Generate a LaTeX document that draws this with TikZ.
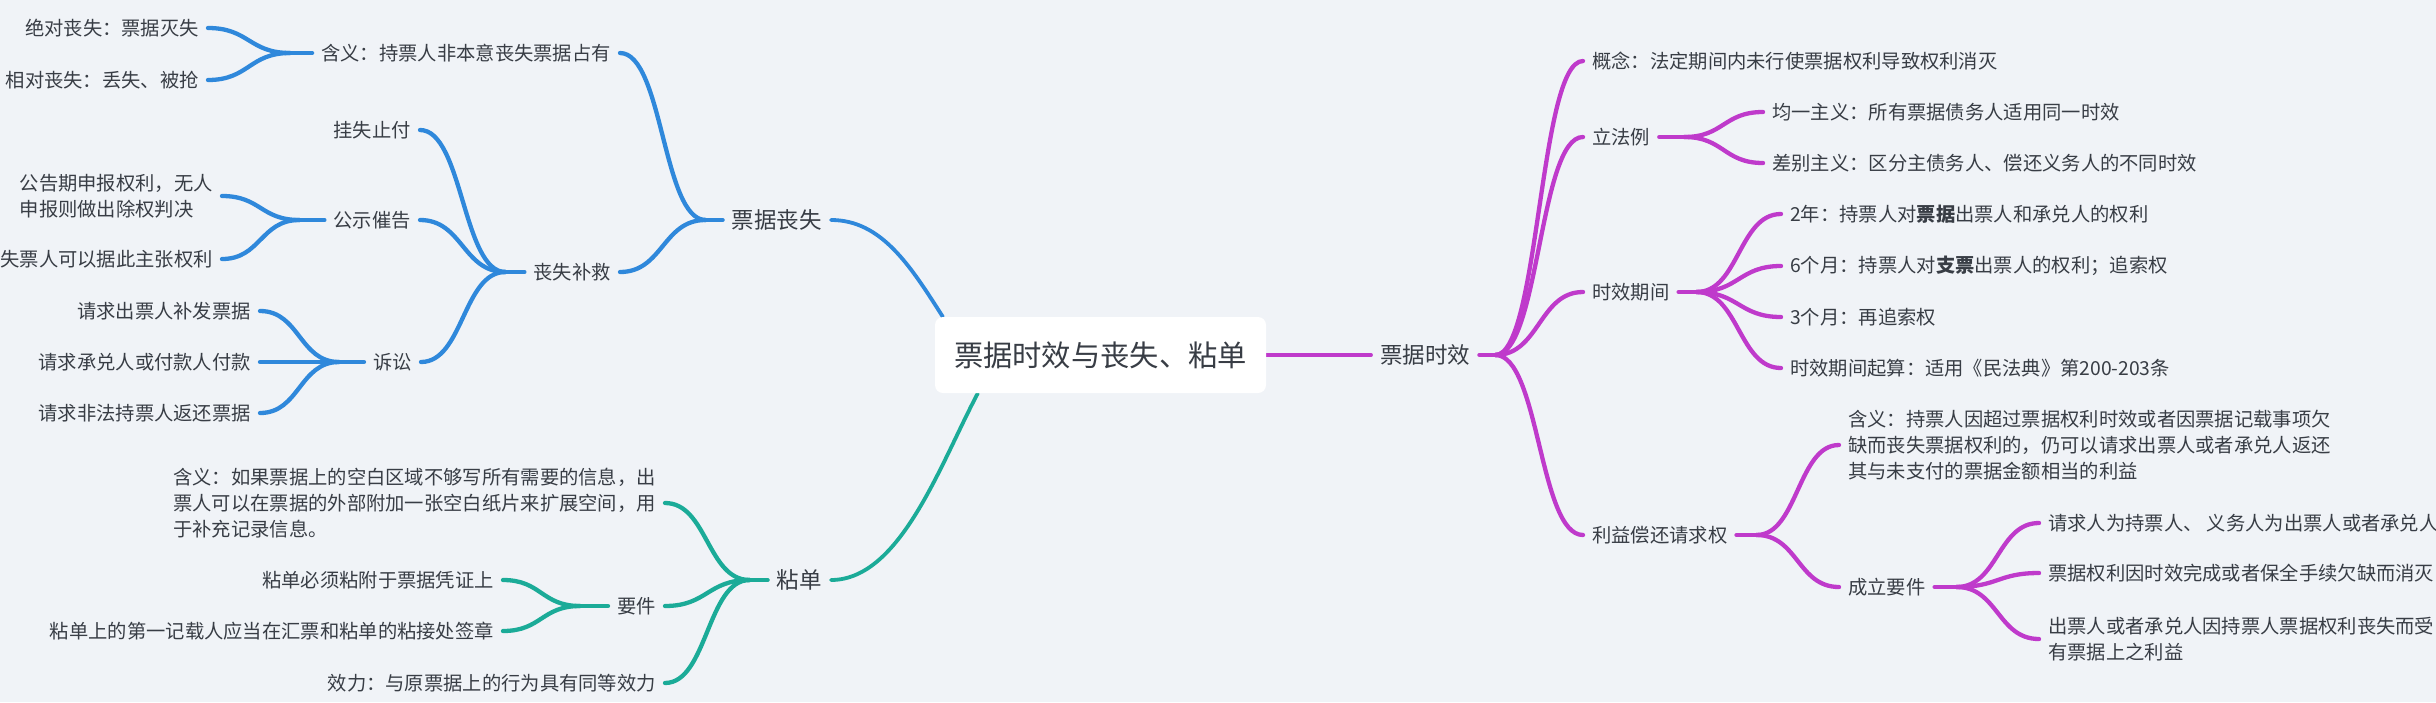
\documentclass[tikz,border=0pt]{standalone}
\usepackage{fontspec}
\setmainfont{Noto Sans CJK SC}
\usetikzlibrary{calc}
\definecolor{bgc}{RGB}{240,243,247}
\definecolor{txt}{RGB}{56,61,69}
\definecolor{cblue}{RGB}{47,136,219}
\definecolor{cteal}{RGB}{27,171,152}
\definecolor{cpurp}{RGB}{191,58,203}
\pgfdeclarelayer{bg}
\pgfdeclarelayer{lines}
\pgfsetlayers{bg,lines,main}
\tikzset{
  every node/.style={text=txt, inner ysep=2pt, inner xsep=9pt, align=left},
  sub/.style={font=\fontsize{19.3}{25.7}\selectfont},
  mainbr/.style={font=\fontsize{22.5}{28}\selectfont},
  rootnode/.style={fill=white, rounded corners=8pt, minimum width=331pt, minimum height=76pt,
    inner sep=0pt, font=\fontsize{29.3}{34}\selectfont},
  link/.style={line width=4.3pt, line cap=round},
  rootlink/.style={line width=3.8pt, line cap=round},
  curveto/.style={to path={.. controls ($(\tikztostart)!0.5!(\tikztotarget|-\tikztostart)$)
     and ($(\tikztotarget)!0.5!(\tikztostart|-\tikztotarget)$) .. (\tikztotarget)}},
}
\begin{document}
\begin{tikzpicture}[x=1pt,y=-1pt]
\begin{pgfonlayer}{bg}
\fill[bgc] (0,0) rectangle (2436,702);
\end{pgfonlayer}
\useasboundingbox (0,0) rectangle (2436,702);

% root
\node[rootnode] (root) at (1100.5,355) {票据时效与丧失、粘单};

% level 1
\node[mainbr, anchor=east] (L1) at (831,220) {票据丧失};
\node[mainbr, anchor=east] (L2) at (831,580) {粘单};
\node[mainbr, anchor=west] (R1) at (1371,355) {票据时效};

% blue branch
\node[sub, anchor=east] (a1) at (620,53) {含义：持票人非本意丧失票据占有};
\node[sub, anchor=east] (a11) at (208,28) {绝对丧失：票据灭失};
\node[sub, anchor=east] (a12) at (208,80) {相对丧失：丢失、被抢};
\node[sub, anchor=east] (a2) at (620,272) {丧失补救};
\node[sub, anchor=east] (a21) at (420,130) {挂失止付};
\node[sub, anchor=east] (a22) at (420,220) {公示催告};
\node[sub, anchor=east] (a221) at (222,196) {公告期申报权利，无人\\申报则做出除权判决};
\node[sub, anchor=east] (a222) at (222,259) {失票人可以据此主张权利};
\node[sub, anchor=east] (a23) at (421,362) {诉讼};
\node[sub, anchor=east] (a231) at (260,311) {请求出票人补发票据};
\node[sub, anchor=east] (a232) at (260,362) {请求承兑人或付款人付款};
\node[sub, anchor=east] (a233) at (260,413) {请求非法持票人返还票据};

% teal branch
\node[sub, anchor=east] (b1) at (665,503) {含义：如果票据上的空白区域不够写所有需要的信息，出\\票人可以在票据的外部附加一张空白纸片来扩展空间，用\\于补充记录信息。};
\node[sub, anchor=east] (b2) at (665,606) {要件};
\node[sub, anchor=east] (b21) at (503,580) {粘单必须粘附于票据凭证上};
\node[sub, anchor=east] (b22) at (503,631) {粘单上的第一记载人应当在汇票和粘单的粘接处签章};
\node[sub, anchor=east] (b3) at (665,683) {效力：与原票据上的行为具有同等效力};

% purple branch
\node[sub, anchor=west] (c1) at (1583,61) {概念：法定期间内未行使票据权利导致权利消灭};
\node[sub, anchor=west] (c2) at (1583,137) {立法例};
\node[sub, anchor=west] (c21) at (1763,112) {均一主义：所有票据债务人适用同一时效};
\node[sub, anchor=west] (c22) at (1763,163) {差别主义：区分主债务人、偿还义务人的不同时效};
\node[sub, anchor=west] (c3) at (1583,292) {时效期间};
\node[sub, anchor=west] (c31) at (1781,214) {2年：持票人对\textbf{票据}出票人和承兑人的权利};
\node[sub, anchor=west] (c32) at (1781,266) {6个月：持票人对\textbf{支票}出票人的权利；追索权};
\node[sub, anchor=west] (c33) at (1781,317) {3个月：再追索权};
\node[sub, anchor=west] (c34) at (1781,368) {时效期间起算：适用《民法典》第200-203条};
\node[sub, anchor=west] (c4) at (1583,535) {利益偿还请求权};
\node[sub, anchor=west] (c41) at (1839,445) {含义：持票人因超过票据权利时效或者因票据记载事项欠\\缺而丧失票据权利的，仍可以请求出票人或者承兑人返还\\其与未支付的票据金额相当的利益};
\node[sub, anchor=west] (c42) at (1839,587) {成立要件};
\node[sub, anchor=west] (c421) at (2039,523) {请求人为持票人、 义务人为出票人或者承兑人};
\node[sub, anchor=west] (c422) at (2039,573) {票据权利因时效完成或者保全手续欠缺而消灭};
\node[sub, anchor=west] (c423) at (2039,639) {出票人或者承兑人因持票人票据权利丧失而受\\有票据上之利益};

\begin{pgfonlayer}{lines}
% root links
\draw[rootlink, cpurp] (root.east) -- (R1.west);
\draw[rootlink, cblue] (L1.east) .. controls +(50,0) and +(-33,-52) .. ([xshift=8pt]root.north west);
\draw[rootlink, cteal] (L2.east) .. controls +(69,0) and +(-38,72) .. ([xshift=43pt]root.south west);

% blue
\draw[link, cblue] (L1.west) -- ++(-17,0) coordinate (jL1);
\draw[link, cblue] (jL1) to[curveto] (a1.east);
\draw[link, cblue] (jL1) to[curveto] (a2.east);
\draw[link, cblue] (a1.west) -- ++(-22,0) coordinate (ja1);
\draw[link, cblue] (ja1) to[curveto] (a11.east);
\draw[link, cblue] (ja1) to[curveto] (a12.east);
\draw[link, cblue] (a2.west) -- ++(-19,0) coordinate (ja2);
\draw[link, cblue] (ja2) to[curveto] (a21.east);
\draw[link, cblue] (ja2) to[curveto] (a22.east);
\draw[link, cblue] (ja2) to[curveto] (a23.east);
\draw[link, cblue] (a22.west) -- ++(-25,0) coordinate (ja22);
\draw[link, cblue] (ja22) to[curveto] (a221.east);
\draw[link, cblue] (ja22) to[curveto] (a222.east);
\draw[link, cblue] (a23.west) -- ++(-25,0) coordinate (ja23);
\draw[link, cblue] (ja23) to[curveto] (a231.east);
\draw[link, cblue] (ja23) to[curveto] (a232.east);
\draw[link, cblue] (ja23) to[curveto] (a233.east);

% teal
\draw[link, cteal] (L2.west) -- ++(-18,0) coordinate (jL2);
\draw[link, cteal] (jL2) to[curveto] (b1.east);
\draw[link, cteal] (jL2) to[curveto] (b2.east);
\draw[link, cteal] (jL2) to[curveto] (b3.east);
\draw[link, cteal] (b2.west) -- ++(-28,0) coordinate (jb2);
\draw[link, cteal] (jb2) to[curveto] (b21.east);
\draw[link, cteal] (jb2) to[curveto] (b22.east);

% purple
\draw[link, cpurp] (R1.east) -- ++(16,0) coordinate (jR1);
\draw[link, cpurp] (jR1) to[curveto] (c1.west);
\draw[link, cpurp] (jR1) to[curveto] (c2.west);
\draw[link, cpurp] (jR1) to[curveto] (c3.west);
\draw[link, cpurp] (jR1) to[curveto] (c4.west);
\draw[link, cpurp] (c2.east) -- ++(25,0) coordinate (jc2);
\draw[link, cpurp] (jc2) to[curveto] (c21.west);
\draw[link, cpurp] (jc2) to[curveto] (c22.west);
\draw[link, cpurp] (c3.east) -- ++(18,0) coordinate (jc3);
\draw[link, cpurp] (jc3) to[curveto] (c31.west);
\draw[link, cpurp] (jc3) to[curveto] (c32.west);
\draw[link, cpurp] (jc3) to[curveto] (c33.west);
\draw[link, cpurp] (jc3) to[curveto] (c34.west);
\draw[link, cpurp] (c4.east) -- ++(20,0) coordinate (jc4);
\draw[link, cpurp] (jc4) to[curveto] (c41.west);
\draw[link, cpurp] (jc4) to[curveto] (c42.west);
\draw[link, cpurp] (c42.east) -- ++(22,0) coordinate (jc42);
\draw[link, cpurp] (jc42) to[curveto] (c421.west);
\draw[link, cpurp] (jc42) to[curveto] (c422.west);
\draw[link, cpurp] (jc42) to[curveto] (c423.west);
\end{pgfonlayer}
\end{tikzpicture}
\end{document}
